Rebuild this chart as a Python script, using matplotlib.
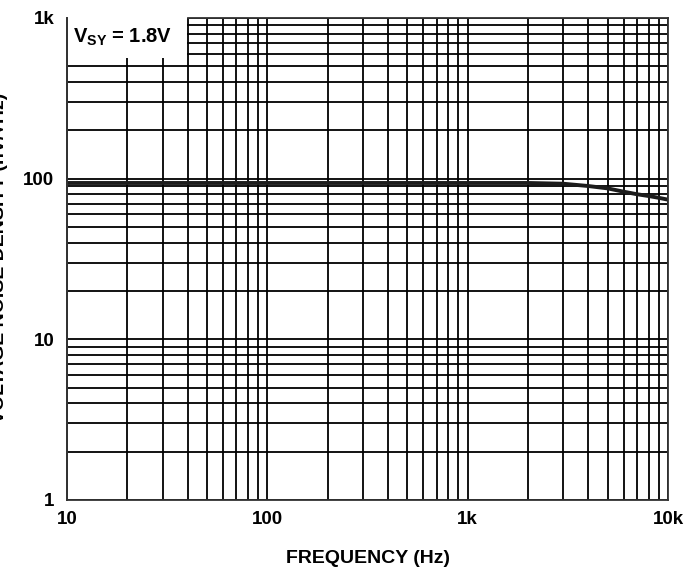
import numpy as np
import matplotlib
matplotlib.use("Agg")
import matplotlib.pyplot as plt
from matplotlib.patches import Rectangle

plt.rcParams["font.family"] = ["Liberation Sans", "DejaVu Sans"]
plt.rcParams["mathtext.fontset"] = "custom"
plt.rcParams["mathtext.rm"] = "Liberation Sans"
plt.rcParams["mathtext.bf"] = "Liberation Sans:bold"

# data
freq_hz = [10, 20, 50, 100, 200, 500, 1000, 2000, 3000, 4000, 5000, 6000, 7000, 8000, 9000, 10000]
noise_nv = [94, 94, 94, 94, 94, 94, 94, 94, 93, 90, 87, 83, 80, 78, 76, 74]

x_ticks = [10, 100, 1000, 10000]
x_ticklabels = ["10", "100", "1k", "10k"]
y_ticks = [1, 10, 100, 1000]
y_ticklabels = ["1", "10", "100", "1k"]

fig = plt.figure(figsize=(6.9, 5.71), dpi=100)
ax = fig.add_axes([67 / 690, 1 - 500 / 571, 601 / 690, 482 / 571])

ax.set_xscale("log")
ax.set_yscale("log")
ax.set_xlim(10, 10000)
ax.set_ylim(1, 1000)

ax.grid(True, which="both", color="black", linewidth=1.3)
ax.set_axisbelow("line")

# white box behind the supply label
box = Rectangle((0.0, 0.918), 0.199, 0.09, transform=ax.transAxes,
                facecolor="white", edgecolor="none", zorder=2, clip_on=False)
ax.add_patch(box)
ax.text(0.01, 0.96, r"$\mathbf{V_{SY}}$ = 1.8V", transform=ax.transAxes,
        fontsize=14.5, fontweight="bold", va="center", ha="left", zorder=4)

ax.plot(freq_hz, noise_nv, color="#1c1c1c", linewidth=2.8, zorder=3)

for side in ["left", "right", "top", "bottom"]:
    ax.spines[side].set_color("#333333")
    ax.spines[side].set_linewidth(1.3)
    ax.spines[side].set_zorder(5)
ax.spines["top"].set_bounds(40, 10000)
# keep the left edge solid over the label box
ax.axvline(10, color="#333333", linewidth=1.3, zorder=6, clip_on=False)

ax.set_xticks(x_ticks)
ax.set_xticklabels(x_ticklabels)
ax.set_yticks(y_ticks)
ax.set_yticklabels(y_ticklabels)
ax.xaxis.set_minor_formatter(plt.NullFormatter())
ax.yaxis.set_minor_formatter(plt.NullFormatter())
ax.tick_params(which="both", length=0)
ax.tick_params(axis="x", pad=8)
ax.tick_params(axis="y", pad=9)
for lbl in ax.get_xticklabels() + ax.get_yticklabels():
    lbl.set_fontweight("bold")
    lbl.set_fontsize(13.5)

ax.set_xlabel("FREQUENCY (Hz)", fontsize=14, fontweight="bold", labelpad=16)
fig.text(8 / 690, 1 - 258 / 571, "VOLTAGE NOISE DENSITY (nV/√Hz)", rotation=90,
         ha="right", va="center", fontsize=14, fontweight="bold")

fig.savefig("out.png", dpi=100)
